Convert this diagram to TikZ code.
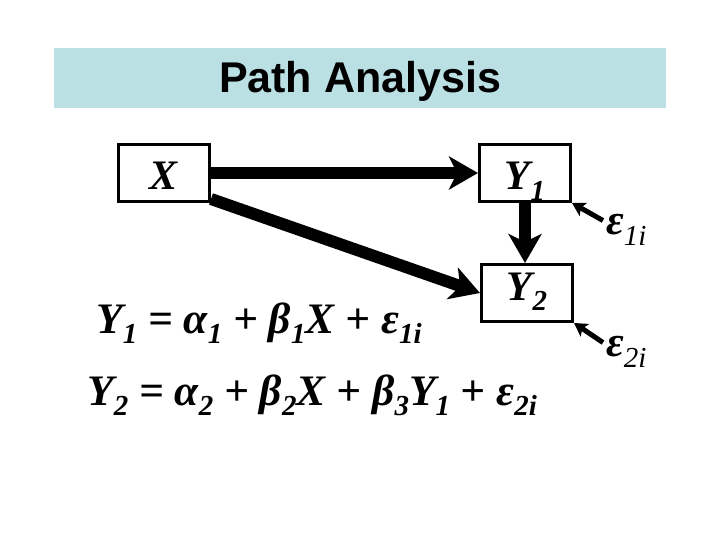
\documentclass[tikz,border=0pt]{standalone}
\usepackage{fontspec}
\setmainfont{Liberation Serif}
\newfontfamily\titlefont{Liberation Sans}
\definecolor{bannerblue}{RGB}{187,224,227}
\usetikzlibrary{arrows.meta}
\newcommand{\sbs}[1]{\raisebox{-10pt}{\fontsize{29}{29}\selectfont #1}}
\newcommand{\sbr}[1]{\raisebox{-11pt}{\fontsize{29}{29}\selectfont\mdseries #1}}

\begin{document}
\begin{tikzpicture}[x=1pt,y=-1pt,
  varbox/.style={draw,line width=3pt,minimum width=91pt,minimum height=57pt,
    inner sep=0pt,text depth=0pt,font=\fontsize{42}{42}\selectfont\bfseries\itshape},
  bigpath/.style={line width=12pt,-{Stealth[length=29pt,width=33pt,inset=8pt]}},
  errpath/.style={line width=5pt,-{Stealth[length=13pt,width=15pt,inset=3pt]}},
  eqn/.style={anchor=base west,inner sep=0pt,font=\fontsize{43.5}{43.5}\selectfont\bfseries\itshape}]
  \useasboundingbox (0,0) rectangle (720,540);

  %% Title banner
  \node[fill=bannerblue,minimum width=612pt,minimum height=60pt,inner sep=0pt,
        text height=30pt,text depth=0pt,
        font=\titlefont\fontsize{43}{43}\selectfont\bfseries] (banner) at (360,78) {Path Analysis};

  %% Variables
  \node[varbox,text height=34pt] (X) at (164,173) {X};
  \node[varbox,text height=34pt] (Y1) at (525,173) {Y\sbs{1}};
  \node[varbox,text height=14pt] (Y2) at (527,293) {Y\sbs{2}};

  %% Error terms
  \node[eqn,font=\fontsize{43}{43}\selectfont\bfseries\itshape] (e1) at (606,234) {ε\sbr{1i}};
  \node[eqn,font=\fontsize{43}{43}\selectfont\bfseries\itshape] (e2) at (606,356) {ε\sbr{2i}};

  %% Paths
  \draw[bigpath] (X.east) -- (Y1.west);
  \draw[bigpath] ([yshift=4pt]X.south east) -- (Y2.west);
  \draw[bigpath] (Y1.south) -- (Y1.south |- Y2.north);
  \draw[errpath] ([xshift=-3pt,yshift=-7pt]e1.north west) -- (Y1.south east);
  \draw[errpath] ([xshift=-3pt,yshift=-7pt]e2.north west) -- (Y2.south east);

  %% Equations
  \node[eqn] (eq1) at (96,333) {Y\sbs{1} = α\sbs{1} + β\sbs{1}X + ε\sbs{1i}};
  \node[eqn] (eq2) at (87,405) {Y\sbs{2} = α\sbs{2} + β\sbs{2}X + β\sbs{3}Y\sbs{1} + ε\sbs{2i}};
\end{tikzpicture}
\end{document}
